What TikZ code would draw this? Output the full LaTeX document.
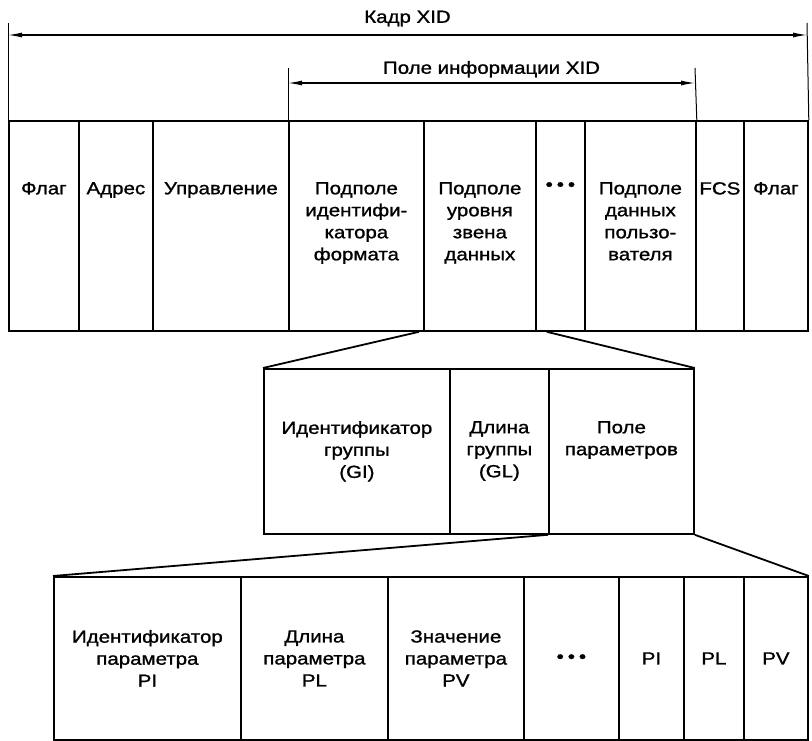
\documentclass[tikz,border=0pt]{standalone}
\usepackage{fontspec}
\setmainfont{Liberation Sans}[FakeStretch=1.17,FakeBold=1.2]
\usetikzlibrary{positioning,arrows.meta}

\tikzset{
    cell/.style={draw,line width=1.8pt,inner sep=0pt,anchor=north west},
    fieldtext/.style={align=center,inner sep=0pt,font=\fontsize{17.5}{22}\selectfont},
    dimline/.style={line width=1.2pt,{Latex[length=14pt,width=5pt]}-{Latex[length=14pt,width=5pt]}},
    tick/.style={line width=1pt},
    fan/.style={line width=1.8pt}
}

\begin{document}
\begin{tikzpicture}[x=1pt,y=-1pt]
    \useasboundingbox (0,0) rectangle (812,741);

    % frame
    \foreach \name/\x/\w/\lbl in {fa1/8/70/Флаг, adr/78/74/Адрес, upr/152/136/Управление,
        fmt/288/135/{Подполе\\идентифи-\\катора\\формата}, dlk/423/112/{Подполе\\уровня\\звена\\данных},
        dt1/535/49/{•\hspace{4pt}•\hspace{4pt}•}, usr/584/111/{Подполе\\данных\\пользо-\\вателя},
        fcs/695/48/FCS, fa2/743/64/Флаг}{
        \node[cell,minimum width=\w pt,minimum height=210pt] (\name) at (\x,120) {};
        \node[fieldtext,below=62pt of \name.north] (\name-t) {\lbl};
    }

    % group
    \foreach \name/\x/\w/\lbl in {gid/263/186/{Идентификатор\\группы\\(GI)},
        gln/449/99/{Длина\\группы\\(GL)}, par/548/145/{Поле\\параметров}}{
        \node[cell,minimum width=\w pt,minimum height=165pt] (\name) at (\x,368) {};
        \node[fieldtext,below=53pt of \name.north] (\name-t) {\lbl};
    }

    % parameters
    \foreach \name/\x/\w/\lbl in {pid/53/187/{Идентификатор\\параметра\\PI},
        pln/240/147/{Длина\\параметра\\PL}, pvl/387/136/{Значение\\параметра\\PV},
        dt2/523/95/{•\hspace{4pt}•\hspace{4pt}•}, pi2/618/65/PI, pl2/683/60/PL, pv2/743/64/PV}{
        \node[cell,minimum width=\w pt,minimum height=163pt] (\name) at (\x,576) {};
        \node[fieldtext] (\name-t) at (\name.center) {\lbl};
    }

    % fans
    \draw[fan] ([xshift=-4pt]dlk.south west) -- (gid.north west);
    \draw[fan] ([xshift=10pt]dlk.south east) -- (par.north east);
    \draw[fan] (par.south west) -- (pid.north west);
    \draw[fan] (par.south east) -- (pv2.north east);

    % dimensions
    \coordinate (k1) at (8,23);
    \coordinate (k2) at (807,23);
    \coordinate (ka) at (8,35);
    \coordinate (kb) at (807,35);
    \draw[tick] (k1) -- (fa1.north west);
    \draw[tick] (k2) -- (fa2.north east);
    \draw[dimline] (ka) -- (kb) node[fieldtext,midway,above=8pt] (kadr) {Кадр XID};

    \coordinate (i1) at (288,68);
    \coordinate (i2) at (695,68);
    \coordinate (ia) at (288,83);
    \coordinate (ib) at (695,83);
    \draw[tick] (i1) -- (fmt.north west);
    \draw[tick] (i2) -- (usr.north east);
    \draw[dimline] (ia) -- (ib) node[fieldtext,midway,above=5pt] (info) {Поле информации XID};
\end{tikzpicture}
\end{document}
